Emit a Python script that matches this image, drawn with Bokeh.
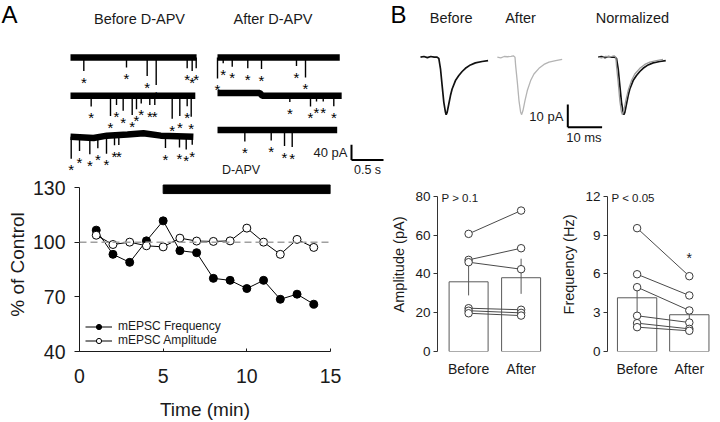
import numpy as np
from bokeh.plotting import figure
from bokeh.models import Range1d, Legend, LegendItem, FixedTicker, Span
from bokeh.layouts import row, column
from bokeh.embed import file_html
from bokeh.resources import INLINE
from bokeh.core.properties import value

FONT = "Liberation Sans"
INK = "#1a1a1a"

# ---------------- Panel A: time course ----------------
time_min = [1, 2, 3, 4, 5, 6, 7, 8, 9, 10, 11, 12, 13, 14]
freq_pct = [106.7, 93.4, 89.0, 100.8, 111.8, 95.4, 94.3, 80.2, 79.1, 74.6, 79.1, 68.7, 71.5, 66.0]
amp_pct = [103.9, 98.8, 100.1, 98.1, 97.5, 102.3, 100.7, 100.5, 100.8, 107.8, 100.1, 93.4, 101.6, 97.2]
time_ticks = [0, 5, 10, 15]
pct_ticks = [40, 70, 100, 130]
apv_on, apv_off = 5, 15
control_pct = 100
series_names = ["mEPSC Frequency", "mEPSC Amplitude"]

# ---------------- Panel A: example traces (s, pA) ----------------
trace_titles = ["Before D-APV", "After D-APV"]
before_traces = [
    dict(base_t=[0, 1.97], base_y=[0, 0],
         ev_t=[0.208, 0.875, 1.198, 1.339, 1.823, 1.901, 1.964],
         ev_a=[35, 26, 48, 72, 28, 35, 28]),
    dict(base_t=[0, 1.95], base_y=[0, 0],
         ev_t=[0.323, 0.625, 0.719, 0.823, 0.964, 1.031, 1.105, 1.239, 1.317, 1.589, 1.708, 1.823, 1.886],
         ev_a=[28, 53, 24, 39, 50, 35, 20, 24, 24, 60, 53, 27, 55]),
    dict(base_t=[0, 0.36, 0.57, 0.89, 1.14, 1.41, 1.92], base_y=[-3, -6, 0, 3, 6, 0, -3],
         ev_t=[0.011, 0.141, 0.302, 0.427, 0.5625, 0.6875, 0.755, 1.484, 1.703, 1.808, 1.902],
         ev_a=[57, 36, 43, 29, 47, 26, 26, 32, 29, 34, 21]),
]
after_traces = [
    dict(base_t=[0, 1.91], base_y=[0, 0],
         ev_t=[0.0, 0.089, 0.23, 0.473, 0.6875, 1.234, 1.375],
         ev_a=[55, 15, 24, 28, 30, 22, 52]),
    dict(base_t=[0, 0.66, 0.70, 1.94], base_y=[4, 4, -3, -3],
         ev_t=[1.13, 1.453, 1.547, 1.652, 1.817],
         ev_a=[16, 28, 15, 15, 27]),
    dict(base_t=[0, 1.87], base_y=[0, 0],
         ev_t=[0.427, 0.839, 1.047, 1.167],
         ev_a=[30, 28, 42, 45]),
]
scale_pA = 40
scale_s = 0.5

# ---------------- Panel B: averaged mEPSC waveforms (ms, pA) ----------------
wave_before_t = [0, 1, 2, 3, 4, 4.85, 5.34, 5.83, 6.31, 6.8, 7.28, 7.48, 7.77, 8.25, 8.74, 9.22,
                 10.19, 11.17, 12.14, 13.1, 14.56, 16.0, 17.96, 19.7]
wave_before_i = [0, 0.3, -0.2, 0.3, 0, 0, -0.5, -5.1, -12.5, -19.9, -24.3, -25.3, -24.3, -20.6, -16.9, -14.0,
                 -10.3, -8.1, -6.3, -4.9, -3.4, -2.5, -1.9, -1.5]
wave_after_t = [0, 1, 2, 3, 4, 4.66, 5.15, 5.34, 5.83, 6.31, 6.8, 7.09, 7.48, 8.06, 8.74, 9.71,
                10.68, 12.14, 13.6, 15.05, 17.0, 18.9]
wave_after_i = [0, -0.3, 0.3, 0.2, 0.4, 0.6, 0, -3.7, -11.0, -19.1, -24.3, -25.3, -23.5, -19.1, -14.7, -10.3,
                -7.4, -4.9, -3.2, -2.2, -1.5, -1.0]
wave_titles = ["Before", "After", "Normalized"]
wave_scale_pA = 10
wave_scale_ms = 10

# ---------------- Panel B: paired summary ----------------
conditions = ["Before", "After"]
amp_before = [60.6, 47.2, 46.0, 22.3, 21.0, 19.7]
amp_after = [72.6, 53.2, 42.4, 21.5, 19.9, 18.5]
amp_mean = [35.9, 38.0]
amp_err_lo = [28.9, 29.7]
amp_err_hi = [45.5, 47.8]
amp_ticks = [0, 20, 40, 60, 80]
freq_before = [9.53, 5.97, 4.97, 2.76, 2.19, 1.88]
freq_after = [5.82, 4.33, 3.17, 2.24, 1.75, 1.6]
freq_mean = [4.15, 2.84]
freq_err_lo = [2.8, 2.45]
freq_err_hi = [4.95, 3.2]
freq_ticks = [0, 3, 6, 9, 12]
amp_p = "P > 0.1"
freq_p = "P < 0.05"
freq_star_y = 7.55

TOP_H, BOT_H = 177, 245


def clean(p):
    p.outline_line_color = None
    p.background_fill_color = None
    p.border_fill_color = None
    return p


def txt(p, x, y, s, size, align="center", baseline="middle", color=INK, y_offset=0):
    p.text(x=[x], y=[y], text=[s], text_font=value(FONT), text_font_size=size,
           text_align=align, text_baseline=baseline, text_color=color, y_offset=y_offset)


# ================= traces figure =================
PXS = 64.0      # px per second
PXA = 0.383     # px per pA
TW, TH = 388, TOP_H
tx0 = -70 / PXS
ty1 = 57 / PXA
pt = figure(width=TW, height=TH, x_range=Range1d(tx0, tx0 + TW / PXS),
            y_range=Range1d(ty1 - TH / PXA, ty1), x_axis_type=None, y_axis_type=None,
            min_border=0, output_backend="svg", toolbar_location=None)
clean(pt)

col_offset = [0.0, 2.297]
row_offset = [[0, -100, -204], [0, -97, -189]]
for c, traces in enumerate([before_traces, after_traces]):
    for r, tr in enumerate(traces):
        xo = col_offset[c]
        yo = row_offset[c][r]
        bt = np.array(tr["base_t"]) + xo
        by = np.array(tr["base_y"]) + yo
        pt.line(bt, by, line_width=6.5, color="black")
        et = np.array(tr["ev_t"]) + xo
        ea = np.array(tr["ev_a"])
        eb = np.interp(et, bt, by)
        pt.segment(x0=et, y0=eb, x1=et, y1=eb - ea, line_width=1.4, color="black")
        pt.text(x=et, y=eb - ea - 19, text=["*"] * len(et), text_font=value(FONT),
                text_font_size="15px", text_align="center", text_baseline="middle",
                text_color="black", y_offset=4)

txt(pt, (139 - 70) / PXS, (57 - 18.5) / PXA, trace_titles[0], "14.5px")
txt(pt, (272.5 - 70) / PXS, (57 - 18.5) / PXA, trace_titles[1], "14.5px")
txt(pt, tx0 + 1 / PXS, ty1, "A", "24px", align="left", baseline="top", color="black")
# scale bar
sb_x = (351 - 70) / PXS
sb_y = (57 - 159.5) / PXA
pt.segment(x0=[sb_x, sb_x], y0=[sb_y, sb_y], x1=[sb_x, sb_x + scale_s], y1=[sb_y + scale_pA, sb_y],
           line_width=2, color="black")
txt(pt, sb_x - 4 / PXS, sb_y + 0.5 * scale_pA, f"{scale_pA} pA", "13px", align="right")
txt(pt, sb_x + 0.5 * scale_s, (57 - 169.8) / PXA, f"{scale_s} s", "12.5px")
# drug label (belongs to the time course bar below)
txt(pt, (240.5 - 70) / PXS, (57 - 169.8) / PXA, "D-APV", "12.5px")

# ================= waveform figure =================
PXM = 3.43   # px per ms
PXW = 2.27   # px per pA
WW, WH = 332, TOP_H
wx0 = -32 / PXM
wy1 = 56.7 / PXW
pw = figure(width=WW, height=WH, x_range=Range1d(wx0, wx0 + WW / PXM),
            y_range=Range1d(wy1 - WH / PXW, wy1), x_axis_type=None, y_axis_type=None,
            min_border=0, output_backend="svg", toolbar_location=None)
clean(pw)
off_before, off_after, off_norm = 0.0, 22.4, 51.8
wb_t = np.array(wave_before_t)
wb_i = np.array(wave_before_i)
wa_t = np.array(wave_after_t)
wa_i = np.array(wave_after_i)
pw.line(wb_t + off_before, wb_i, line_width=1.7, color="#111111")
pw.line(wa_t + off_after, wa_i, line_width=1.3, color="#b4b4b4")
norm_factor = wb_i.min() / wa_i.min()
pw.line(wb_t + off_norm, wb_i, line_width=1.7, color="#111111")
pw.line(wa_t + off_norm, wa_i * norm_factor, line_width=1.3, color="#9a9a9a")
ty = (56.7 - 17) / PXW
txt(pw, (450.7 - 420) / PXM, ty, wave_titles[0], "14.5px")
txt(pw, (520 - 420) / PXM, ty, wave_titles[1], "14.5px")
txt(pw, (632 - 420) / PXM, ty, wave_titles[2], "14.5px")
txt(pw, wx0 + 2 / PXM, wy1, "B", "24px", align="left", baseline="top", color="black")
wsx = (567.3 - 420) / PXM
wsy = (56.7 - 126.7) / PXW
pw.segment(x0=[wsx, wsx], y0=[wsy, wsy], x1=[wsx, wsx + wave_scale_ms], y1=[wsy + wave_scale_pA, wsy],
           line_width=2, color="black")
txt(pw, wsx - 1.3, wsy + 0.45 * wave_scale_pA, f"{wave_scale_pA} pA", "13px", align="right")
txt(pw, wsx + 0.47 * wave_scale_ms, wsy - 4.4, f"{wave_scale_ms} ms", "13px")

# ================= time course figure =================
FH = 175
p = figure(width=380, height=BOT_H, x_range=Range1d(0, 15), y_range=Range1d(40, 40 + FH / 1.830),
           output_backend="svg", toolbar_location=None,
           min_border_left=79, min_border_right=50, min_border_top=0, min_border_bottom=BOT_H - FH)
clean(p)
p.grid.grid_line_color = None
p.quad(left=[apv_on], right=[apv_off], bottom=[126.8], top=[131.5], color="black")
p.add_layout(Span(location=control_pct, dimension="width", line_color="#a0a0a0",
                  line_dash="7 4", line_width=1.5))
lf = p.line(time_min, freq_pct, color="black", line_width=1)
sf = p.scatter(time_min, freq_pct, size=8, fill_color="black", line_color="black")
la = p.line(time_min, amp_pct, color="black", line_width=1)
sa = p.scatter(time_min, amp_pct, size=8, fill_color="white", line_color="black")
leg = Legend(items=[LegendItem(label=series_names[0], renderers=[lf, sf]),
                    LegendItem(label=series_names[1], renderers=[la, sa])],
             location=(6, 4), padding=0, margin=0, spacing=0, glyph_width=27, glyph_height=13,
             label_height=13, label_standoff=6, label_text_font=FONT, label_text_font_size="12px",
             label_text_color=INK, border_line_color=None, background_fill_alpha=0)
p.add_layout(leg)

p.xaxis.ticker = FixedTicker(ticks=time_ticks)
p.yaxis.ticker = FixedTicker(ticks=pct_ticks)
p.yaxis.bounds = (40, 130)
p.xaxis.bounds = (0, 15)
for ax in (p.xaxis[0], p.yaxis[0]):
    ax.axis_line_color = INK
    ax.major_tick_line_color = INK
    ax.minor_tick_line_color = None
    ax.major_label_text_font = FONT
    ax.major_label_text_font_size = "19.5px"
    ax.major_label_text_color = INK
    ax.axis_label_text_font = FONT
    ax.axis_label_text_font_size = "19px"
    ax.axis_label_text_font_style = "normal"
    ax.axis_label_text_color = INK
p.xaxis.major_tick_in = 3
p.xaxis.major_tick_out = 0
p.xaxis.major_label_standoff = 17
p.xaxis.axis_label = "Time (min)"
p.xaxis.axis_label_standoff = 13
p.yaxis.major_tick_in = 0
p.yaxis.major_tick_out = 5
p.yaxis.major_label_standoff = 9
p.yaxis.axis_label = "% of Control"
p.yaxis.axis_label_standoff = 2


# ================= paired bar figures =================
def bar_panel(before, after, mean, lo, hi, ymax, yticks, ylabel, ptxt, x0, pxu, bar_w, star_y=None):
    fh = 174
    ytop = ymax * fh / 155.3
    fw = 170 - 57 - 6
    xs = [i + 1 for i in range(len(conditions))]
    q = figure(width=170, height=BOT_H, x_range=Range1d(x0, x0 + fw / pxu), y_range=Range1d(0, ytop),
               output_backend="svg", toolbar_location=None,
               min_border_left=57, min_border_right=6, min_border_top=0, min_border_bottom=BOT_H - fh)
    clean(q)
    q.grid.grid_line_color = None
    q.vbar(x=xs, top=mean, width=bar_w, fill_color="white", line_color="#5a5a5a", line_width=1)
    q.segment(x0=xs, y0=lo, x1=xs, y1=hi, color="#5a5a5a", line_width=1)
    n = len(before)
    q.segment(x0=[xs[0]] * n, y0=before, x1=[xs[1]] * n, y1=after, color="#4a4a4a", line_width=1)
    q.scatter([xs[0]] * n, before, size=7.5, fill_color="white", line_color="#3a3a3a", line_width=1)
    q.scatter([xs[1]] * n, after, size=7.5, fill_color="white", line_color="#3a3a3a", line_width=1)
    txt(q, x0 + 4 / pxu, ymax * (351 - 197) / 155.3, ptxt, "11.5px", align="left")
    if star_y is not None:
        txt(q, xs[1], star_y, "*", "14px", y_offset=4)
    q.xaxis.ticker = FixedTicker(ticks=xs)
    q.xaxis.major_label_overrides = {x: c for x, c in zip(xs, conditions)}
    q.xaxis.axis_line_color = None
    q.xaxis.major_tick_line_color = None
    q.xaxis.minor_tick_line_color = None
    q.xaxis.major_label_standoff = 3
    q.xaxis.major_label_text_font = FONT
    q.xaxis.major_label_text_font_size = "14px"
    q.xaxis.major_label_text_color = INK
    q.yaxis.ticker = FixedTicker(ticks=yticks)
    q.yaxis.bounds = (0, ymax)
    q.yaxis.axis_line_color = "#333333"
    q.yaxis.major_tick_line_color = "#333333"
    q.yaxis.minor_tick_line_color = None
    q.yaxis.major_tick_in = 0
    q.yaxis.major_tick_out = 4
    q.yaxis.major_label_standoff = 3
    q.yaxis.major_label_text_font = FONT
    q.yaxis.major_label_text_font_size = "13.5px"
    q.yaxis.major_label_text_color = INK
    q.yaxis.axis_label = ylabel
    q.yaxis.axis_label_text_font = FONT
    q.yaxis.axis_label_text_font_size = "14.5px"
    q.yaxis.axis_label_text_font_style = "normal"
    q.yaxis.axis_label_text_color = INK
    q.yaxis.axis_label_standoff = 5
    return q


pa = bar_panel(amp_before, amp_after, amp_mean, amp_err_lo, amp_err_hi, 80, amp_ticks,
               "Amplitude (pA)", amp_p, 1 - 31.1 / 52.5, 52.5, 0.743)
pf = bar_panel(freq_before, freq_after, freq_mean, freq_err_lo, freq_err_hi, 12, freq_ticks,
               "Frequency (Hz)", freq_p, 1 - 29.6 / 52.2, 52.2, 0.753, star_y=freq_star_y)

layout = column(row(pt, pw), row(p, pa, pf))
open("out.html", "w").write(file_html(layout, INLINE))
